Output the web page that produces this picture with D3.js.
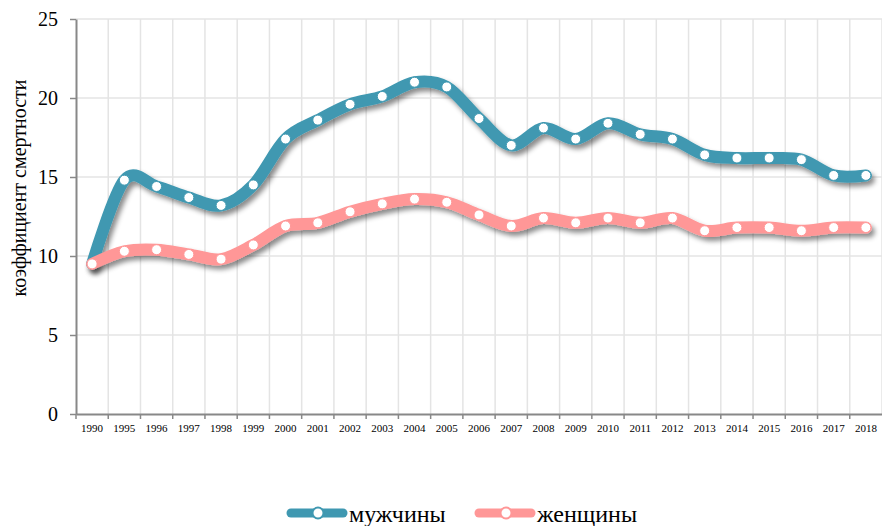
<!DOCTYPE html>
<html>
<head>
<meta charset="utf-8">
<script src="https://d3js.org/d3.v7.min.js"></script>
<style>
  body { margin: 0; background: #fff; }
  svg text { font-family: 'Liberation Serif', 'Times New Roman', 'DejaVu Serif', serif; }
</style>
</head>
<body>
<div id="chart"></div>
<script>
// years on the x axis (1991-1994 are skipped in the source)
var years = ["1990", "1995", "1996", "1997", "1998", "1999", "2000", "2001", "2002",
  "2003", "2004", "2005", "2006", "2007", "2008", "2009", "2010", "2011", "2012",
  "2013", "2014", "2015", "2016", "2017", "2018"];

var men = [9.5, 14.8, 14.4, 13.7, 13.2, 14.5, 17.4, 18.6, 19.6, 20.1, 21.0, 20.7,
  18.7, 17.0, 18.1, 17.4, 18.4, 17.7, 17.4, 16.4, 16.2, 16.2, 16.1, 15.1, 15.1];

var women = [9.5, 10.3, 10.4, 10.1, 9.8, 10.7, 11.9, 12.1, 12.8, 13.3, 13.6, 13.4,
  12.6, 11.9, 12.4, 12.1, 12.4, 12.1, 12.4, 11.6, 11.8, 11.8, 11.6, 11.8, 11.8];

var yTicks = [0, 5, 10, 15, 20, 25];

var seriesNames = ["мужчины", "женщины"];
var seriesColors = ["#3f98b1", "#ff9797"];

var serif = "'Liberation Serif', 'Times New Roman', serif";

var W = 882, H = 526;
var margin = { top: 19, right: 0, bottom: 112, left: 76 };
var width = W - margin.left - margin.right;
var height = H - margin.top - margin.bottom;

var svg = d3.select("#chart").append("svg")
  .attr("width", W)
  .attr("height", H)
  .attr("font-family", serif);

// drop shadow under the thick lines
var defs = svg.append("defs");
var shadow = defs.append("filter")
  .attr("id", "shadow")
  .attr("x", "-10%").attr("y", "-20%")
  .attr("width", "130%").attr("height", "160%");
shadow.append("feDropShadow")
  .attr("dx", 3).attr("dy", 4)
  .attr("stdDeviation", 2.5)
  .attr("flood-color", "#000")
  .attr("flood-opacity", 0.45);

var g = svg.append("g")
  .attr("transform", "translate(" + margin.left + "," + margin.top + ")");

var x = d3.scaleBand().domain(years).range([0, width]);
var y = d3.scaleLinear().domain([0, 25]).range([height, 0]);

// horizontal grid
g.append("g")
  .selectAll("line")
  .data(yTicks.filter(function(d) { return d > 0; }))
  .enter().append("line")
  .attr("x1", 0).attr("x2", width)
  .attr("y1", function(d) { return y(d); })
  .attr("y2", function(d) { return y(d); })
  .style("stroke", "#e4e4e4")
  .style("stroke-width", "1.5px");

// vertical grid at category boundaries
g.append("g")
  .selectAll("line")
  .data(years)
  .enter().append("line")
  .attr("x1", function(d) { return x(d) + x.step(); })
  .attr("x2", function(d) { return x(d) + x.step(); })
  .attr("y1", 0).attr("y2", height)
  .style("stroke", "#e4e4e4")
  .style("stroke-width", "1.5px");

// y axis
var yAxis = g.append("g")
  .call(d3.axisLeft(y).tickValues(yTicks).tickSize(6).tickPadding(12).tickSizeOuter(0));
yAxis.attr("font-family", serif);
yAxis.select(".domain").style("stroke", "#888").style("stroke-width", "2px");
yAxis.selectAll(".tick line").style("stroke", "#888").style("stroke-width", "1.5px");
yAxis.selectAll("text")
  .style("font-size", "20px")
  .attr("fill", "#000");

// x axis, ticks on the boundaries
var xAxis = g.append("g")
  .attr("transform", "translate(0," + height + ")")
  .call(d3.axisBottom(x).tickSize(0).tickPadding(10).tickSizeOuter(0));
xAxis.attr("font-family", serif);
xAxis.select(".domain").style("stroke", "#888").style("stroke-width", "2px");
xAxis.selectAll("text")
  .style("font-size", "11px")
  .attr("fill", "#000");
xAxis.append("g")
  .selectAll("line")
  .data(years)
  .enter().append("line")
  .attr("x1", function(d) { return x(d); })
  .attr("x2", function(d) { return x(d); })
  .attr("y1", 0).attr("y2", 5)
  .style("stroke", "#888")
  .style("stroke-width", "1.5px");

// y axis title
svg.append("text")
  .attr("transform", "translate(26,188) rotate(-90)")
  .attr("text-anchor", "middle")
  .style("font-size", "20px")
  .text("коэффициент смертности");

var line = d3.line()
  .curve(d3.curveCardinal.tension(0))
  .x(function(d, i) { return x(years[i]) + x.bandwidth() / 2; })
  .y(function(d) { return y(d); });

[men, women].forEach(function(vals, k) {
  var s = g.append("g");
  s.append("path")
    .datum(vals)
    .attr("d", line)
    .style("fill", "none")
    .style("stroke", seriesColors[k])
    .style("stroke-width", "12px")
    .style("stroke-linecap", "round")
    .style("stroke-linejoin", "round")
    .attr("filter", "url(#shadow)");
  s.selectAll("circle")
    .data(vals)
    .enter().append("circle")
    .attr("cx", function(d, i) { return x(years[i]) + x.bandwidth() / 2; })
    .attr("cy", function(d) { return y(d); })
    .attr("r", 5)
    .style("fill", "#fff")
    .style("stroke", seriesColors[k])
    .style("stroke-width", "1px");
});

// legend
var legendX = [287, 475];
var legend = svg.append("g");
seriesNames.forEach(function(name, k) {
  var lg = legend.append("g").attr("transform", "translate(" + legendX[k] + ",513)");
  lg.append("line")
    .attr("x1", 4).attr("x2", 56)
    .attr("y1", 0).attr("y2", 0)
    .style("stroke", seriesColors[k])
    .style("stroke-width", "9px")
    .style("stroke-linecap", "round");
  lg.append("circle")
    .attr("cx", 31).attr("cy", 0).attr("r", 5.5)
    .style("fill", "#fff")
    .style("stroke", seriesColors[k])
    .style("stroke-width", "2px");
  lg.append("text")
    .attr("x", 62).attr("y", 9)
    .style("font-size", "24px")
    .text(name);
});
</script>
</body>
</html>
